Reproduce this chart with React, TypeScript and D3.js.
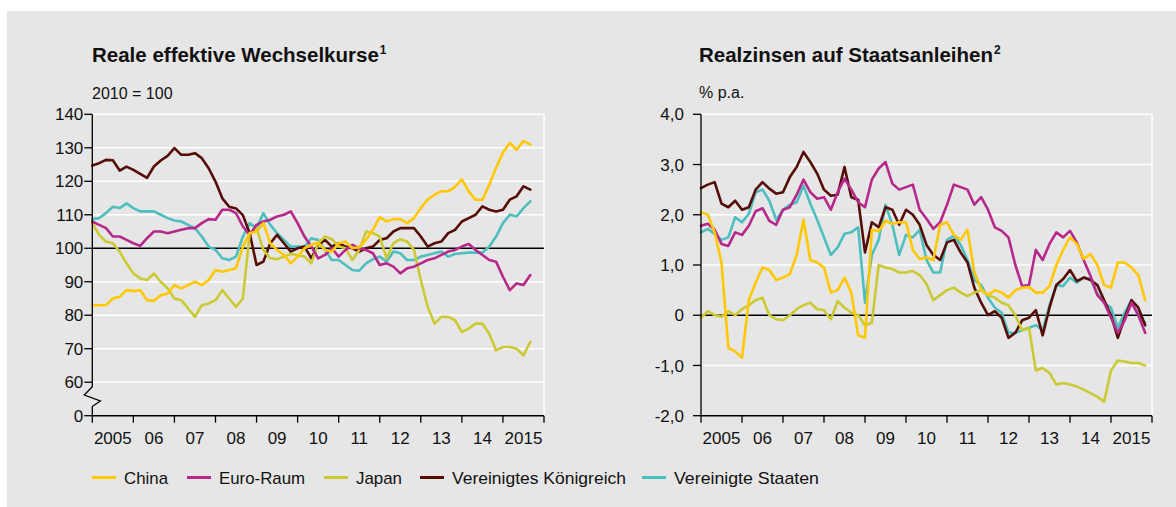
import React from "react";
import * as d3 from "d3";

// x-axis labels (one per year, centred in the year)
const yearLabels = ["2005", "06", "07", "08", "09", "10", "11", "12", "13", "14", "2015"];

const seriesNames = ["China", "Euro-Raum", "Japan", "Vereinigtes Königreich", "Vereinigte Staaten"];
const seriesColors = ["#ffc800", "#b7288b", "#cbca33", "#560c07", "#4dbfbf"];

// Reale effektive Wechselkurse, 2010 = 100, bimonthly from Jan 2005
const wkChina = [83, 83, 83, 85, 85.5, 87.5, 87.2, 87.5, 84.5, 84.3, 86, 86.5, 89, 88, 89, 90, 89, 90.5, 93.5, 93, 93.5, 94, 100.5, 104.5, 105, 107.5, 101.5, 99.5, 98, 95.5, 97.5, 100, 101, 101.7, 99.5, 99, 101.5, 102, 100, 100.3, 102.5, 105.5, 109.3, 108, 108.7, 108.7, 107.5, 109, 112, 114.5, 116, 117, 117, 118.3, 120.6, 117, 114.5, 114.5, 119, 124, 128.5, 131.5, 129.4, 132, 131];
const wkEuro = [108, 107, 106, 103.5, 103.5, 102.5, 101.5, 100.7, 103, 105, 105, 104.5, 105, 105.5, 106, 106, 107.5, 108.7, 108.5, 111.5, 111.5, 110.5, 106.5, 104, 107, 108, 108.5, 109.5, 110, 111, 107.5, 103.5, 100.5, 97, 98, 100, 97.5, 99.5, 101, 100, 99.5, 98.5, 95, 95.5, 94.5, 92.5, 94, 94.5, 95.5, 96.5, 97, 98, 99, 99.5, 100.5, 101.3, 99.5, 98, 96.5, 96, 91.5, 87.5, 89.5, 89, 92];
const wkJapan = [107.5, 104, 102, 101.5, 99, 95.5, 92.5, 91, 90.5, 92.5, 90, 88, 85, 84.5, 82, 79.5, 83, 83.5, 84.5, 87.5, 85, 82.5, 85, 104.5, 106, 99.5, 97, 96.7, 97.5, 98.3, 98, 97.5, 95.5, 101.5, 103.5, 102.7, 100.5, 100, 96.5, 99.5, 105, 104.5, 103.5, 97, 101.5, 102.7, 102, 99.5, 90.5, 82.5, 77.5, 79.5, 79.5, 78.5, 75, 76, 77.5, 77.5, 74.5, 69.5, 70.5, 70.5, 70, 68, 72];
const wkUK = [124.7, 125.4, 126.4, 126.3, 123.2, 124.4, 123.4, 122.2, 121, 124.4, 126.2, 127.6, 129.9, 127.9, 127.9, 128.4, 126.9, 123.9, 119.9, 114.9, 112.4, 111.9, 109.9, 104.5, 95, 96, 101.5, 104, 101.5, 99, 100, 100.5, 97, 101, 102.5, 100.5, 101.5, 100.5, 100, 99, 100, 100.5, 102.5, 103, 105, 106, 106, 106, 103.5, 100.5, 101.5, 102, 104.5, 105.5, 108, 109, 110, 112.5, 111.5, 111, 111.5, 114.5, 115.5, 118.5, 117.5];
const wkUS = [108.7, 109, 110.5, 112.4, 112, 113.4, 112, 111, 111, 111, 110, 109, 108.3, 108, 107, 106, 103.5, 100.5, 99.5, 97, 96.5, 97.5, 103.5, 107.5, 106, 110.5, 107, 104.5, 102.5, 100.5, 100.5, 100.5, 103, 102.5, 99.5, 96.5, 96.5, 95, 93.5, 93.3, 95.5, 96.7, 97.5, 96, 99, 98.5, 96.5, 96.5, 97.5, 98, 98.5, 99, 97.5, 98.3, 98.5, 98.7, 98.7, 98.7, 100.5, 103.5, 107.5, 110, 109.5, 112, 114];

// Realzinsen auf Staatsanleihen, % p.a., bimonthly from Jan 2005
const rzChina = [2.05, 2.0, 1.65, 1.05, -0.65, -0.72, -0.85, 0.3, 0.65, 0.95, 0.9, 0.7, 0.75, 0.82, 1.2, 1.9, 1.1, 1.05, 0.95, 0.45, 0.5, 0.75, 0.45, -0.4, -0.45, 1.7, 1.67, 1.88, 1.82, 1.85, 1.85, 1.3, 1.12, 1.15, 1.1, 1.8, 1.85, 1.6, 1.5, 1.7, 0.85, 0.52, 0.4, 0.5, 0.45, 0.35, 0.5, 0.55, 0.56, 0.45, 0.45, 0.58, 1.0, 1.3, 1.55, 1.42, 1.12, 1.22, 1.0, 0.6, 0.55, 1.05, 1.05, 0.95, 0.8, 0.3];
const rzEuro = [1.78, 1.82, 1.7, 1.42, 1.38, 1.65, 1.6, 1.78, 2.07, 2.13, 1.88, 1.8, 2.1, 2.15, 2.4, 2.7, 2.45, 2.32, 2.35, 2.1, 2.45, 2.72, 2.5, 2.25, 2.15, 2.7, 2.92, 3.05, 2.62, 2.5, 2.55, 2.6, 2.1, 1.92, 1.72, 1.85, 2.2, 2.6, 2.55, 2.5, 2.2, 2.35, 2.1, 1.75, 1.68, 1.55, 1.0, 0.58, 0.6, 1.3, 1.1, 1.42, 1.65, 1.55, 1.68, 1.45, 1.1, 0.78, 0.4, 0.25, -0.05, -0.35, -0.1, 0.25, 0.0, -0.35];
const rzJapan = [-0.05, 0.08, 0.0, -0.03, 0.08, 0.0, 0.12, 0.2, 0.3, 0.35, 0.0, -0.08, -0.1, 0.0, 0.12, 0.2, 0.25, 0.12, 0.1, -0.08, 0.28, 0.15, 0.05, 0.0, -0.2, -0.15, 1.0, 0.95, 0.92, 0.85, 0.85, 0.88, 0.8, 0.62, 0.3, 0.4, 0.5, 0.55, 0.45, 0.38, 0.45, 0.5, 0.4, 0.35, 0.25, 0.2, 0.0, -0.3, -0.25, -1.1, -1.05, -1.15, -1.38, -1.35, -1.38, -1.42, -1.48, -1.55, -1.62, -1.72, -1.1, -0.9, -0.92, -0.95, -0.95, -1.0];
const rzUK = [2.53, 2.6, 2.65, 2.22, 2.15, 2.28, 2.1, 2.15, 2.5, 2.65, 2.52, 2.42, 2.45, 2.75, 2.95, 3.25, 3.05, 2.82, 2.5, 2.38, 2.4, 2.95, 2.35, 2.3, 1.25, 1.85, 1.75, 2.15, 2.1, 1.8, 2.1, 2.0, 1.8, 1.4, 1.2, 1.1, 1.45, 1.5, 1.25, 1.05, 0.55, 0.25, 0.0, 0.08, -0.05, -0.45, -0.35, -0.1, -0.05, 0.1, -0.4, 0.15, 0.6, 0.72, 0.9, 0.68, 0.75, 0.7, 0.6, 0.3, 0.0, -0.45, -0.05, 0.3, 0.15, -0.2];
const rzUS = [1.65, 1.72, 1.62, 1.5, 1.55, 1.95, 1.85, 2.02, 2.45, 2.5, 2.28, 1.9, 2.1, 2.2, 2.25, 2.58, 2.22, 1.9, 1.55, 1.2, 1.35, 1.62, 1.65, 1.75, 0.25, 1.2, 1.5, 2.2, 1.8, 1.2, 1.6, 1.55, 1.7, 1.1, 0.85, 0.85, 1.5, 1.58, 1.4, 1.1, 0.7, 0.6, 0.35, 0.15, 0.05, -0.35, -0.35, -0.3, -0.25, -0.2, -0.3, 0.2, 0.6, 0.58, 0.75, 0.65, 0.75, 0.72, 0.42, 0.25, 0.15, -0.25, 0.05, 0.3, 0.0, -0.15];

// y ticks (left: 50 is drawn as "0" below the axis break)
const wkTicks = [50, 60, 70, 80, 90, 100, 110, 120, 130, 140];
const wkTickLabels = ["0", "60", "70", "80", "90", "100", "110", "120", "130", "140"];
const rzTicks = [-2, -1, 0, 1, 2, 3, 4];
const rzTickLabels = ["-2,0", "-1,0", "0", "1,0", "2,0", "3,0", "4,0"];

const FONT = "'Liberation Sans', Arial, sans-serif";
const drawOrder = [4, 3, 2, 1, 0];

type PanelProps = {
  x0: number;
  x1: number;
  domain: [number, number];
  ticks: number[];
  labels: string[];
  refValue: number;
  series: number[][];
  labelGap: number;
  axisBreak?: boolean;
};

const Y_TOP = 114.3;
const Y_BOT = 415.7;

function Panel({ x0, x1, domain, ticks, labels, refValue, series, labelGap, axisBreak }: PanelProps) {
  const x = d3.scaleLinear().domain([2005, 2016]).range([x0, x1]);
  const y = d3.scaleLinear().domain(domain).range([Y_BOT, Y_TOP]);
  const line = d3
    .line<number>()
    .x((_, i) => x(2005 + i / 6))
    .y((d) => y(d));
  const years = d3.range(2005, 2017);

  return (
    <g>
      {/* white gridlines */}
      {ticks
        .filter((t) => t !== refValue && t !== domain[0])
        .map((t) => (
          <line key={t} x1={x0} x2={x1} y1={y(t)} y2={y(t)} stroke="#fff" strokeWidth={1.5} />
        ))}
      <line x1={x1} x2={x1} y1={Y_TOP} y2={Y_BOT} stroke="#fff" strokeWidth={1.5} />
      {/* reference line */}
      <line x1={x0} x2={x1} y1={y(refValue)} y2={y(refValue)} stroke="#000" strokeWidth={1.3} />

      {drawOrder.map((k) => (
        <path
          key={k}
          d={line(series[k]) || ""}
          fill="none"
          stroke={seriesColors[k]}
          strokeWidth={2.6}
          strokeLinejoin="round"
          strokeLinecap="round"
        />
      ))}

      {/* y axis */}
      {axisBreak ? (
        <path
          d={`M${x0},${Y_TOP}V386.7L${x0 - 8},395L${x0 + 8},401L${x0},406.5V${Y_BOT}`}
          fill="none"
          stroke="#000"
          strokeWidth={1.3}
        />
      ) : (
        <line x1={x0} x2={x0} y1={Y_TOP} y2={Y_BOT} stroke="#000" strokeWidth={1.3} />
      )}
      {ticks.map((t, i) => (
        <g key={t}>
          <line x1={x0 - 8} x2={x0} y1={y(t)} y2={y(t)} stroke="#000" strokeWidth={1.3} />
          <text
            x={x0 - labelGap}
            y={y(t)}
            dy="0.36em"
            textAnchor="end"
            fontSize={17}
            fontFamily={FONT}
            fill="#111"
          >
            {labels[i]}
          </text>
        </g>
      ))}

      {/* x axis */}
      <line x1={x0} x2={x1} y1={Y_BOT} y2={Y_BOT} stroke="#000" strokeWidth={1.5} />
      {years.map((yr) => (
        <line key={yr} x1={x(yr)} x2={x(yr)} y1={Y_BOT} y2={Y_BOT + 7} stroke="#000" strokeWidth={1.3} />
      ))}
      {yearLabels.map((lab, i) => (
        <text
          key={lab}
          x={x(2005.5 + i)}
          y={444}
          textAnchor="middle"
          fontSize={17}
          fontFamily={FONT}
          fill="#111"
        >
          {lab}
        </text>
      ))}
    </g>
  );
}

const legendLineX = [92, 187, 324, 420, 642];
const legendTextW = [44, 86, 46, 174, 145];

export default function App() {
  const wk = [wkChina, wkEuro, wkJapan, wkUK, wkUS];
  const rz = [rzChina, rzEuro, rzJapan, rzUK, rzUS];
  return (
    <svg
      width={1176}
      height={507}
      style={{ position: "absolute", left: 0, top: 0, background: "#fff" }}
    >
      <rect x={7} y={11} width={1169} height={496} fill="#e6e6e6" />

      <text x={92} y={61.5} fontSize={20.5} fontWeight="bold" fontFamily={FONT} fill="#111">
        Reale effektive Wechselkurse
        <tspan fontSize={12} dx={1} dy={-8}>1</tspan>
      </text>
      <text x={92} y={99} fontSize={16} fontFamily={FONT} fill="#111">2010 = 100</text>

      <text x={699} y={61.5} fontSize={20.5} fontWeight="bold" fontFamily={FONT} fill="#111">
        Realzinsen auf Staatsanleihen
        <tspan fontSize={12} dx={1} dy={-8}>2</tspan>
      </text>
      <text x={699} y={98} fontSize={16} fontFamily={FONT} fill="#111">% p.a.</text>

      <Panel
        x0={92.3}
        x1={544}
        domain={[50, 140]}
        ticks={wkTicks}
        labels={wkTickLabels}
        refValue={100}
        series={wk}
        labelGap={9}
        axisBreak
      />
      <Panel
        x0={701}
        x1={1152}
        domain={[-2, 4]}
        ticks={rzTicks}
        labels={rzTickLabels}
        refValue={0}
        series={rz}
        labelGap={17}
      />

      {/* legend */}
      {seriesNames.map((name, i) => (
        <g key={name}>
          <line
            x1={legendLineX[i]}
            x2={legendLineX[i] + 24}
            y1={477.5}
            y2={477.5}
            stroke={seriesColors[i]}
            strokeWidth={3}
          />
          <text
            x={legendLineX[i] + 32}
            y={483.5}
            fontSize={17}
            fontFamily={FONT}
            fill="#111"
            textLength={legendTextW[i]}
            lengthAdjust="spacingAndGlyphs"
          >
            {name}
          </text>
        </g>
      ))}
    </svg>
  );
}
